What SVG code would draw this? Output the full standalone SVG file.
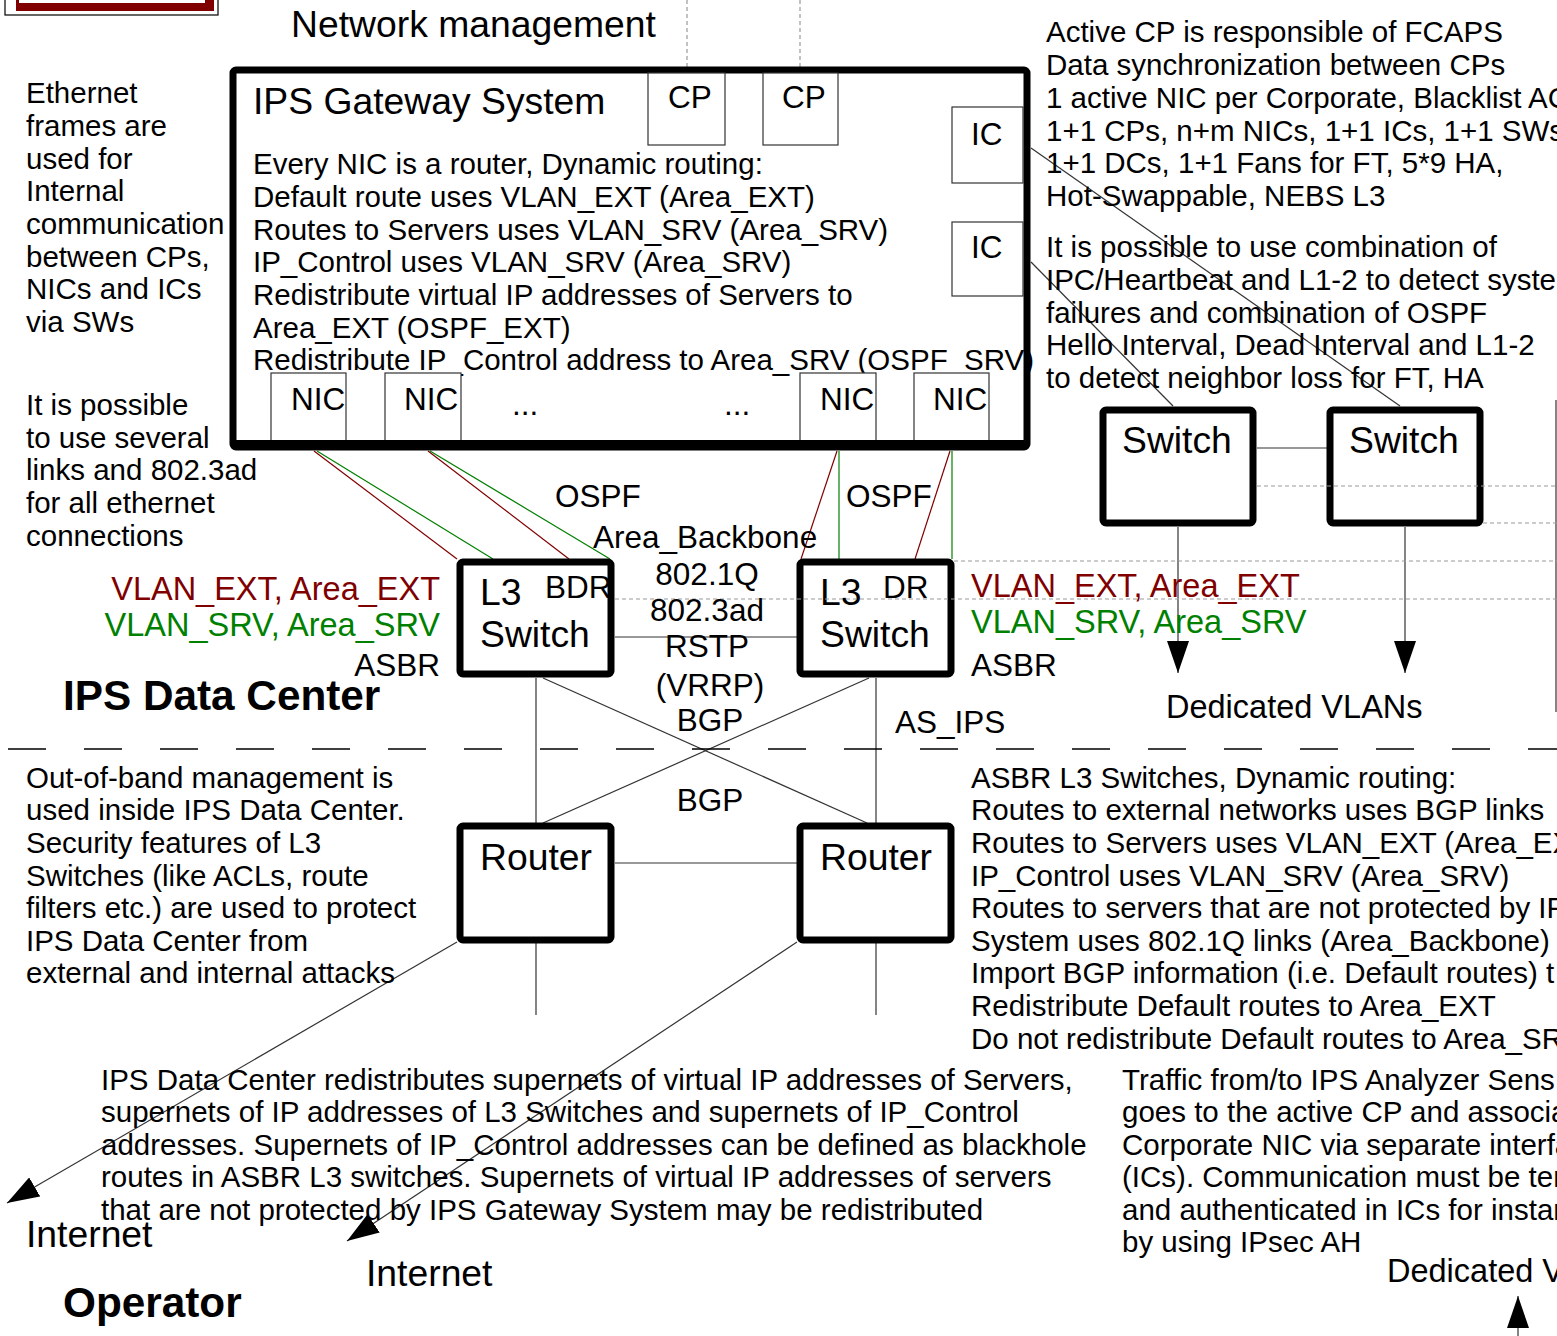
<svg xmlns="http://www.w3.org/2000/svg" width="1557" height="1336" viewBox="0 0 1557 1336">
<defs>
<style>
text{font-family:"Liberation Sans",Arial,sans-serif;fill:#000}
.t{font-size:29.5px}
.m{font-size:31.5px}
.v{font-size:32.5px}
.l{font-size:37.3px}
.b{font-size:42.3px;font-weight:bold}
.red{fill:#800000}
.grn{fill:#008000}
.node{fill:#fff;stroke:#000;stroke-width:7}
.sub{fill:#fff;stroke:#333;stroke-width:1.2}
.c{stroke:#333;stroke-width:1.2;fill:none}
.cr{stroke:#800000;stroke-width:1.2;fill:none}
.cg{stroke:#008000;stroke-width:1.2;fill:none}
.g{stroke:#999;stroke-width:1.2;stroke-dasharray:4 3;fill:none}
</style>
<marker id="ah" markerUnits="userSpaceOnUse" markerWidth="32" markerHeight="22" refX="32" refY="11" orient="auto">
<path d="M0,0 L32,11 L0,22 z" fill="#000"/>
</marker>
</defs>
<rect width="1557" height="1336" fill="#fff"/>

<g id="topbox">
<rect x="5" y="-20" width="213" height="35" fill="#fff" stroke="#000" stroke-width="1.2"/>
<path d="M16,-10 H214 V11 H16 z M19,-10 V3 H205 V-10 z" fill="#800000" fill-rule="evenodd"/>
</g>

<g id="mgmt">
<line class="g" x1="687" y1="0" x2="687" y2="67"/>
<line class="g" x1="800" y1="0" x2="800" y2="67"/>
<text class="l" x="291" y="37">Network management</text>
</g>

<g id="connectors">
<line class="c" x1="1031" y1="148" x2="1400" y2="406"/>
<line class="c" x1="1031" y1="262" x2="1173" y2="406"/>
<line class="c" x1="1257" y1="448" x2="1327" y2="448"/>
<line class="c" x1="1178" y1="527" x2="1178" y2="673" marker-end="url(#ah)"/>
<line class="c" x1="1405" y1="527" x2="1405" y2="673" marker-end="url(#ah)"/>
<line class="cr" x1="314" y1="451" x2="457" y2="559"/>
<line class="cg" x1="317" y1="451" x2="493" y2="559"/>
<line class="cr" x1="428" y1="451" x2="569" y2="559"/>
<line class="cg" x1="430" y1="451" x2="610" y2="559"/>
<line class="cr" x1="837" y1="451" x2="801" y2="559"/>
<line class="cg" x1="839" y1="451" x2="839" y2="559"/>
<line class="cr" x1="950" y1="451" x2="915" y2="559"/>
<line class="cg" x1="952" y1="451" x2="952" y2="559"/>
<line class="c" x1="615" y1="637" x2="797" y2="637"/>
<line class="c" x1="536" y1="678" x2="536" y2="823"/>
<line class="c" x1="876" y1="678" x2="876" y2="823"/>
<line class="c" x1="543" y1="678" x2="867" y2="823"/>
<line class="c" x1="869" y1="678" x2="543" y2="823"/>
<line class="c" x1="615" y1="863" x2="797" y2="863"/>
<line class="c" x1="536" y1="943" x2="536" y2="1015"/>
<line class="c" x1="876" y1="943" x2="876" y2="1015"/>
<line class="c" x1="457" y1="942" x2="7" y2="1203" marker-end="url(#ah)"/>
<line class="c" x1="797" y1="942" x2="347" y2="1241" marker-end="url(#ah)"/>
<line class="c" x1="1518" y1="1336" x2="1518" y2="1296" marker-end="url(#ah)"/>
<line class="c" x1="1556" y1="400" x2="1556" y2="712"/>
</g>

<g id="gateway">
<rect class="node" x="233" y="70" width="794" height="377" rx="3"/>
<text class="l" x="253" y="114">IPS Gateway System</text>
<text class="t" x="253" y="174">Every NIC is a router, Dynamic routing:</text>
<text class="t" x="253" y="207">Default route uses VLAN_EXT (Area_EXT)</text>
<text class="t" x="253" y="240">Routes to Servers uses VLAN_SRV (Area_SRV)</text>
<text class="t" x="253" y="272">IP_Control uses VLAN_SRV (Area_SRV)</text>
<text class="t" x="253" y="305">Redistribute virtual IP addresses of Servers to</text>
<text class="t" x="253" y="338">Area_EXT (OSPF_EXT)</text>
<text class="t" x="253" y="370">Redistribute IP_Control address to Area_SRV (OSPF_SRV)</text>
<text class="m" x="512" y="415">...</text>
<text class="m" x="724" y="415">...</text>
</g>
<g id="cp1"><rect class="sub" x="648" y="73" width="77" height="72"/><text class="m" x="668" y="108">CP</text></g>
<g id="cp2"><rect class="sub" x="763" y="73" width="75" height="72"/><text class="m" x="782" y="108">CP</text></g>
<g id="ic1"><rect class="sub" x="952" y="107" width="71" height="76"/><text class="m" x="971" y="145">IC</text></g>
<g id="ic2"><rect class="sub" x="952" y="222" width="71" height="74"/><text class="m" x="971" y="258">IC</text></g>
<g id="nic1"><rect class="sub" x="271" y="373" width="75" height="71"/><text class="m" x="291" y="410">NIC</text></g>
<g id="nic2"><rect class="sub" x="385" y="373" width="76" height="71"/><text class="m" x="404" y="410">NIC</text></g>
<g id="nic3"><rect class="sub" x="800" y="373" width="76" height="71"/><text class="m" x="820" y="410">NIC</text></g>
<g id="nic4"><rect class="sub" x="914" y="373" width="75" height="71"/><text class="m" x="933" y="410">NIC</text></g>
<rect x="233" y="440" width="794" height="7" fill="#000"/>

<g id="switch1"><rect class="node" x="1103" y="410" width="150" height="113" rx="3"/><text class="l" x="1122" y="453">Switch</text></g>
<g id="switch2"><rect class="node" x="1330" y="410" width="150" height="113" rx="3"/><text class="l" x="1349" y="453">Switch</text></g>

<g id="l3bdr"><rect class="node" x="460" y="562" width="151" height="112" rx="3"/>
<text class="l" x="480" y="605">L3</text><text class="m" x="545" y="598">BDR</text><text class="l" x="480" y="647">Switch</text></g>
<g id="l3dr"><rect class="node" x="800" y="562" width="151" height="112" rx="3"/>
<text class="l" x="820" y="605">L3</text><text class="m" x="883" y="598">DR</text><text class="l" x="820" y="647">Switch</text></g>

<g id="router1"><rect class="node" x="460" y="826" width="151" height="114" rx="3"/><text class="l" x="480" y="870">Router</text></g>
<g id="router2"><rect class="node" x="800" y="826" width="151" height="114" rx="3"/><text class="l" x="820" y="870">Router</text></g>

<g id="guides">
<line class="g" x1="1257" y1="486" x2="1557" y2="486"/>
<line class="g" x1="1483" y1="523" x2="1557" y2="523"/>
<line class="g" x1="954" y1="561" x2="1557" y2="561"/>
<line class="g" x1="615" y1="599" x2="1557" y2="599"/>
<line x1="8" y1="749" x2="1557" y2="749" stroke="#000" stroke-width="1.5" stroke-dasharray="38 38"/>
</g>

<g id="labels">
<text class="t" x="26" y="103">Ethernet</text>
<text class="t" x="26" y="136">frames are</text>
<text class="t" x="26" y="169">used for</text>
<text class="t" x="26" y="201">Internal</text>
<text class="t" x="26" y="234">communication</text>
<text class="t" x="26" y="267">between CPs,</text>
<text class="t" x="26" y="299">NICs and ICs</text>
<text class="t" x="26" y="332">via SWs</text>

<text class="t" x="26" y="415">It is possible</text>
<text class="t" x="26" y="448">to use several</text>
<text class="t" x="26" y="480">links and 802.3ad</text>
<text class="t" x="26" y="513">for all ethernet</text>
<text class="t" x="26" y="546">connections</text>

<text class="t" x="1046" y="42">Active CP is responsible of FCAPS</text>
<text class="t" x="1046" y="75">Data synchronization between CPs</text>
<text class="t" x="1046" y="108">1 active NIC per Corporate, Blacklist AC</text>
<text class="t" x="1046" y="141">1+1 CPs, n+m NICs, 1+1 ICs, 1+1 SWs</text>
<text class="t" x="1046" y="173">1+1 DCs, 1+1 Fans for FT, 5*9 HA,</text>
<text class="t" x="1046" y="206">Hot-Swappable, NEBS L3</text>

<text class="t" x="1046" y="257">It is possible to use combination of</text>
<text class="t" x="1046" y="290">IPC/Heartbeat and L1-2 to detect syste</text>
<text class="t" x="1046" y="323">failures and combination of OSPF</text>
<text class="t" x="1046" y="355">Hello Interval, Dead Interval and L1-2</text>
<text class="t" x="1046" y="388">to detect neighbor loss for FT, HA</text>

<text class="m" x="555" y="507">OSPF</text>
<text class="m" x="846" y="507">OSPF</text>
<text class="m" x="593" y="548">Area_Backbone</text>
<text class="m" x="707" y="585" text-anchor="middle">802.1Q</text>
<text class="m" x="707" y="621" text-anchor="middle">802.3ad</text>
<text class="m" x="707" y="657" text-anchor="middle">RSTP</text>
<text class="m" x="710" y="696" text-anchor="middle">(VRRP)</text>
<text class="m" x="710" y="731" text-anchor="middle">BGP</text>
<text class="m" x="710" y="811" text-anchor="middle">BGP</text>
<text class="m" x="895" y="733">AS_IPS</text>

<text class="v red" x="440" y="600" text-anchor="end">VLAN_EXT, Area_EXT</text>
<text class="v grn" x="440" y="636" text-anchor="end">VLAN_SRV, Area_SRV</text>
<text class="m" x="440" y="676" text-anchor="end">ASBR</text>
<text class="v red" x="971" y="597">VLAN_EXT, Area_EXT</text>
<text class="v grn" x="971" y="633">VLAN_SRV, Area_SRV</text>
<text class="m" x="971" y="676">ASBR</text>

<text class="v" x="1166" y="718">Dedicated VLANs</text>
<text class="b" x="63" y="710">IPS Data Center</text>

<text class="t" x="26" y="788">Out-of-band management is</text>
<text class="t" x="26" y="820">used inside IPS Data Center.</text>
<text class="t" x="26" y="853">Security features of L3</text>
<text class="t" x="26" y="886">Switches (like ACLs, route</text>
<text class="t" x="26" y="918">filters etc.) are used to protect</text>
<text class="t" x="26" y="951">IPS Data Center from</text>
<text class="t" x="26" y="983">external and internal attacks</text>

<text class="t" x="971" y="788">ASBR L3 Switches, Dynamic routing:</text>
<text class="t" x="971" y="820">Routes to external networks uses BGP links</text>
<text class="t" x="971" y="853">Routes to Servers uses VLAN_EXT (Area_EX</text>
<text class="t" x="971" y="886">IP_Control uses VLAN_SRV (Area_SRV)</text>
<text class="t" x="971" y="918">Routes to servers that are not protected by IP</text>
<text class="t" x="971" y="951">System uses 802.1Q links (Area_Backbone)</text>
<text class="t" x="971" y="983">Import BGP information (i.e. Default routes) t</text>
<text class="t" x="971" y="1016">Redistribute Default routes to Area_EXT</text>
<text class="t" x="971" y="1049">Do not redistribute Default routes to Area_SR</text>

<text class="t" x="101" y="1090">IPS Data Center redistributes supernets of virtual IP addresses of Servers,</text>
<text class="t" x="101" y="1122">supernets of IP addresses of L3 Switches and supernets of IP_Control</text>
<text class="t" x="101" y="1155">addresses. Supernets of IP_Control addresses can be defined as blackhole</text>
<text class="t" x="101" y="1187">routes in ASBR L3 switches. Supernets of virtual IP addresses of servers</text>
<text class="t" x="101" y="1220">that are not protected by IPS Gateway System may be redistributed</text>

<text class="t" x="1122" y="1090">Traffic from/to IPS Analyzer Sens</text>
<text class="t" x="1122" y="1122">goes to the active CP and associa</text>
<text class="t" x="1122" y="1155">Corporate NIC via separate interfa</text>
<text class="t" x="1122" y="1187">(ICs). Communication must be ter</text>
<text class="t" x="1122" y="1220">and authenticated in ICs for instan</text>
<text class="t" x="1122" y="1252">by using IPsec AH</text>

<text class="l" x="26" y="1247">Internet</text>
<text class="l" x="366" y="1286">Internet</text>
<text class="v" x="1387" y="1282">Dedicated V</text>
<text class="b" x="63" y="1317">Operator</text>
</g>
</svg>
